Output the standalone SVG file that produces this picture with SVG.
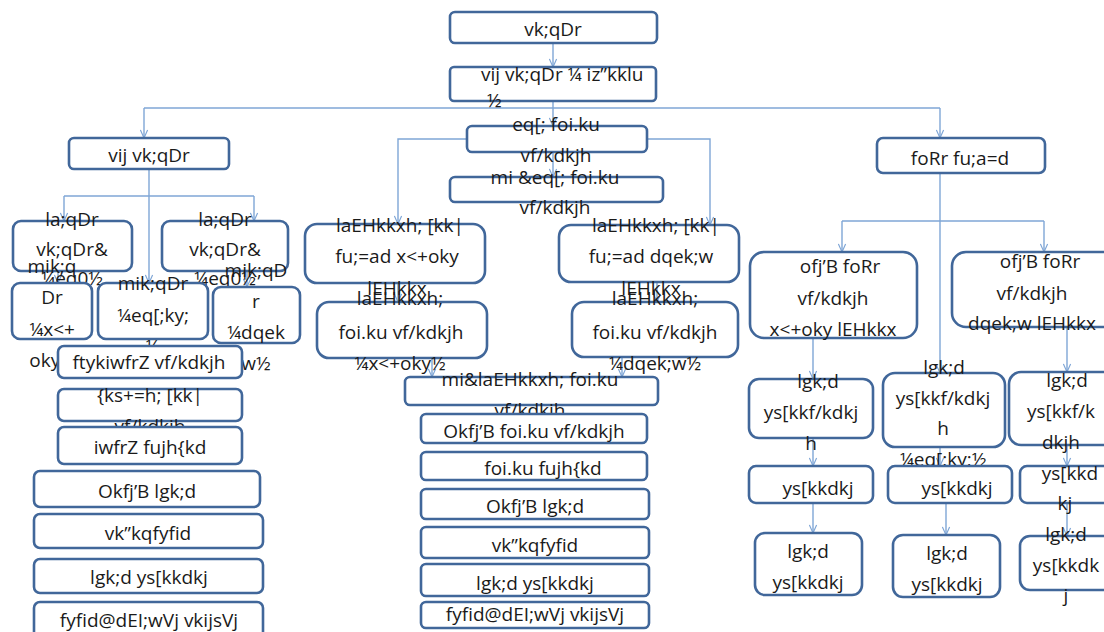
<svg xmlns="http://www.w3.org/2000/svg" width="1104" height="632" viewBox="0 0 1104 632">
<style>
.b{fill:#fff;stroke:#41679a;stroke-width:2.6}
.t{font-family:"Open Sans","Noto Sans","DejaVu Sans",sans-serif;font-size:19px;fill:#1a1a1a;text-anchor:middle}
.c{fill:none;stroke:#7fa6d6;stroke-width:1.4}
</style>
<defs>
<marker id="ah" viewBox="0 0 10 10" refX="10" refY="5" markerWidth="9" markerHeight="9" orient="auto" markerUnits="userSpaceOnUse">
<path d="M1,1 L10,5 L1,9" fill="none" stroke="#7fa6d6" stroke-width="1.3"/>
</marker>
</defs>
<rect width="1104" height="632" fill="#fff"/>
<g id="connectors">
<path class="c" d="M553,44 V67" marker-end="url(#ah)"/>
<path class="c" d="M553,101 V126" marker-end="url(#ah)"/>
<path class="c" d="M144,108 H940"/>
<path class="c" d="M144,108 V138" marker-end="url(#ah)"/>
<path class="c" d="M940,108 V138" marker-end="url(#ah)"/>
<path class="c" d="M553,152 V177" marker-end="url(#ah)"/>
<path class="c" d="M467,139 H398 V224" marker-end="url(#ah)"/>
<path class="c" d="M647,139 H710 V225" marker-end="url(#ah)"/>
<path class="c" d="M149,169 V283" marker-end="url(#ah)"/>
<path class="c" d="M64,196 H254"/>
<path class="c" d="M64,196 V221" marker-end="url(#ah)"/>
<path class="c" d="M254,196 V221" marker-end="url(#ah)"/>
<path class="c" d="M58,271 V283" marker-end="url(#ah)"/>
<path class="c" d="M247,271 V287" marker-end="url(#ah)"/>
<path class="c" d="M398,283 V302" marker-end="url(#ah)"/>
<path class="c" d="M657,282 V302" marker-end="url(#ah)"/>
<path class="c" d="M432,358 V377" marker-end="url(#ah)"/>
<path class="c" d="M622,357 V377" marker-end="url(#ah)"/>
<path class="c" d="M940,173 V373" marker-end="url(#ah)"/>
<path class="c" d="M842,221 H1044"/>
<path class="c" d="M842,221 V252" marker-end="url(#ah)"/>
<path class="c" d="M1044,221 V252" marker-end="url(#ah)"/>
<path class="c" d="M813,338 V379" marker-end="url(#ah)"/>
<path class="c" d="M1067,327 V372" marker-end="url(#ah)"/>
<path class="c" d="M813,438 V466" marker-end="url(#ah)"/>
<path class="c" d="M940,447 V466" marker-end="url(#ah)"/>
<path class="c" d="M1067,445 V466" marker-end="url(#ah)"/>
<path class="c" d="M813,503 V533" marker-end="url(#ah)"/>
<path class="c" d="M946,503 V535" marker-end="url(#ah)"/>
<path class="c" d="M1067,503 V536" marker-end="url(#ah)"/>
</g>
<g id="n1"><rect class="b" x="450" y="12" width="207" height="31" rx="5"/><text class="t" x="553" y="36">vk;qDr</text></g>
<g id="n2"><rect class="b" x="450" y="67" width="206" height="34" rx="4"/><text class="t" style="text-anchor:start" x="481" y="81">vij vk;qDr ¼ iz”kklu</text><text class="t" style="text-anchor:start" x="487" y="107">½</text></g>
<g id="n3"><rect class="b" x="467" y="126" width="180" height="26" rx="5"/><text class="t" x="556" y="131">eq[; foi.ku</text><text class="t" x="556" y="162">vf/kdkjh</text></g>
<g id="n4"><rect class="b" x="450" y="177" width="213" height="25" rx="5"/><text class="t" x="555" y="184">mi &amp;eq[; foi.ku</text><text class="t" x="555" y="214">vf/kdkjh</text></g>
<g id="n5"><rect class="b" x="69" y="138" width="160" height="31" rx="5"/><text class="t" x="149" y="162">vij vk;qDr</text></g>
<g id="n6"><rect class="b" x="877" y="138" width="168" height="35" rx="6"/><text class="t" x="960" y="165">foRr fu;a=d</text></g>
<g id="n7"><rect class="b" x="13" y="221" width="119" height="50" rx="8"/><text class="t" x="72" y="226">la;qDr</text><text class="t" x="72" y="256">vk;qDr&amp;</text><text class="t" x="72" y="285">¼eq0½</text></g>
<g id="n8"><rect class="b" x="162" y="221" width="126" height="50" rx="8"/><text class="t" x="225" y="226">la;qDr</text><text class="t" x="225" y="256">vk;qDr&amp;</text><text class="t" x="225" y="285">¼eq0½</text></g>
<g id="n9"><rect class="b" x="12" y="283" width="80" height="56" rx="8"/><text class="t" x="52" y="273">mik;q</text><text class="t" x="52" y="304">Dr</text><text class="t" x="52" y="336">¼x&lt;+</text><text class="t" x="52" y="367">oky½</text></g>
<g id="n10"><rect class="b" x="98" y="283" width="110" height="56" rx="8"/><text class="t" x="153" y="290">mik;qDr</text><text class="t" x="153" y="322">¼eq[;ky;</text><text class="t" x="153" y="353">½</text></g>
<g id="n11"><rect class="b" x="213" y="287" width="87" height="56" rx="8"/><text class="t" x="256" y="277">mik;qD</text><text class="t" x="256" y="308">r</text><text class="t" x="256" y="339">¼dqek</text><text class="t" x="256" y="370">w½</text></g>
<g id="n12"><rect class="b" x="58" y="346" width="184" height="32" rx="6"/><text class="t" x="149" y="369">ftykiwfrZ vf/kdkjh</text></g>
<g id="n13"><rect class="b" x="58" y="389" width="184" height="32" rx="6"/><text class="t" x="150" y="402">{ks+=h; [kk|</text><text class="t" x="150" y="433">vf/kdkjh</text></g>
<g id="n14"><rect class="b" x="58" y="427" width="184" height="37" rx="6"/><text class="t" x="150" y="454">iwfrZ fujh{kd</text></g>
<g id="n15"><rect class="b" x="34" y="471" width="226" height="36" rx="6"/><text class="t" x="147" y="498">Okfj’B lgk;d</text></g>
<g id="n16"><rect class="b" x="34" y="514" width="229" height="34" rx="6"/><text class="t" x="148" y="540">vk”kqfyfid</text></g>
<g id="n17"><rect class="b" x="34" y="559" width="229" height="34" rx="6"/><text class="t" x="149" y="584">lgk;d ys[kkdkj</text></g>
<g id="n18"><rect class="b" x="34" y="602" width="229" height="40" rx="6"/><text class="t" x="149" y="627">fyfid@dEI;wVj vkijsVj</text></g>
<g id="n19"><rect class="b" x="305" y="224" width="180" height="59" rx="12"/><text class="t" x="400" y="232">laEHkkxh; [kk|</text><text class="t" x="397" y="263">fu;=ad x&lt;+oky</text><text class="t" x="397" y="295">lEHkkx</text></g>
<g id="n20"><rect class="b" x="317" y="302" width="170" height="56" rx="12"/><text class="t" x="400" y="305">laEHkkxh;</text><text class="t" x="401" y="339">foi.ku vf/kdkjh</text><text class="t" x="400" y="370">¼x&lt;+oky½</text></g>
<g id="n21"><rect class="b" x="559" y="225" width="180" height="57" rx="12"/><text class="t" x="656" y="232">laEHkkxh; [kk|</text><text class="t" x="651" y="263">fu;=ad dqek;w</text><text class="t" x="651" y="295">lEHkkx</text></g>
<g id="n22"><rect class="b" x="572" y="302" width="166" height="55" rx="12"/><text class="t" x="655" y="305">laEHkkxh;</text><text class="t" x="655" y="339">foi.ku vf/kdkjh</text><text class="t" x="655" y="370">¼dqek;w½</text></g>
<g id="n23"><rect class="b" x="405" y="377" width="253" height="28" rx="5"/><text class="t" x="530" y="386">mi&amp;laEHkkxh; foi.ku</text><text class="t" x="530" y="417">vf/kdkjh</text></g>
<g id="n24"><rect class="b" x="421" y="414" width="226" height="29" rx="5"/><text class="t" x="534" y="438">Okfj’B foi.ku vf/kdkjh</text></g>
<g id="n25"><rect class="b" x="421" y="452" width="226" height="28" rx="5"/><text class="t" x="543" y="475">foi.ku fujh{kd</text></g>
<g id="n26"><rect class="b" x="421" y="489" width="228" height="30" rx="5"/><text class="t" x="535" y="513">Okfj’B lgk;d</text></g>
<g id="n27"><rect class="b" x="421" y="527" width="228" height="31" rx="5"/><text class="t" x="535" y="552">vk”kqfyfid</text></g>
<g id="n28"><rect class="b" x="421" y="564" width="228" height="32" rx="5"/><text class="t" x="535" y="590">lgk;d ys[kkdkj</text></g>
<g id="n29"><rect class="b" x="421" y="602" width="228" height="26" rx="5"/><text class="t" x="535" y="621">fyfid@dEI;wVj vkijsVj</text></g>
<g id="n30"><rect class="b" x="750" y="252" width="167" height="86" rx="14"/><text class="t" x="840" y="273">ofj’B foRr</text><text class="t" x="833" y="305">vf/kdkjh</text><text class="t" x="833" y="336">x&lt;+oky lEHkkx</text></g>
<g id="n31"><rect class="b" x="952" y="252" width="170" height="75" rx="14"/><text class="t" x="1040" y="268">ofj’B foRr</text><text class="t" x="1032" y="300">vf/kdkjh</text><text class="t" x="1032" y="330">dqek;w lEHkkx</text></g>
<g id="n32"><rect class="b" x="749" y="379" width="124" height="59" rx="10"/><text class="t" x="818" y="388">lgk;d</text><text class="t" x="811" y="419">ys[kkf/kdkj</text><text class="t" x="811" y="450">h</text></g>
<g id="n33"><rect class="b" x="883" y="373" width="122" height="74" rx="12"/><text class="t" x="944" y="374">lgk;d</text><text class="t" x="943" y="405">ys[kkf/kdkj</text><text class="t" x="943" y="435">h</text><text class="t" x="943" y="466">¼eq[;ky;½</text></g>
<g id="n34"><rect class="b" x="1009" y="372" width="120" height="73" rx="12"/><text class="t" x="1067" y="387">lgk;d</text><text class="t" x="1061" y="418">ys[kkf/k</text><text class="t" x="1061" y="449">dkjh</text></g>
<g id="n35"><rect class="b" x="749" y="466" width="124" height="37" rx="7"/><text class="t" x="818" y="495">ys[kkdkj</text></g>
<g id="n36"><rect class="b" x="888" y="466" width="124" height="37" rx="7"/><text class="t" x="957" y="495">ys[kkdkj</text></g>
<g id="n37"><rect class="b" x="1020" y="466" width="110" height="37" rx="7"/><text class="t" x="1070" y="480">ys[kkd</text><text class="t" x="1065" y="510">kj</text></g>
<g id="n38"><rect class="b" x="755" y="533" width="107" height="62" rx="10"/><text class="t" x="808" y="558">lgk;d</text><text class="t" x="808" y="589">ys[kkdkj</text></g>
<g id="n39"><rect class="b" x="893" y="535" width="107" height="62" rx="10"/><text class="t" x="947" y="560">lgk;d</text><text class="t" x="947" y="591">ys[kkdkj</text></g>
<g id="n40"><rect class="b" x="1020" y="536" width="110" height="54" rx="10"/><text class="t" x="1066" y="541">lgk;d</text><text class="t" x="1066" y="572">ys[kkdk</text><text class="t" x="1066" y="602">j</text></g>
</svg>
